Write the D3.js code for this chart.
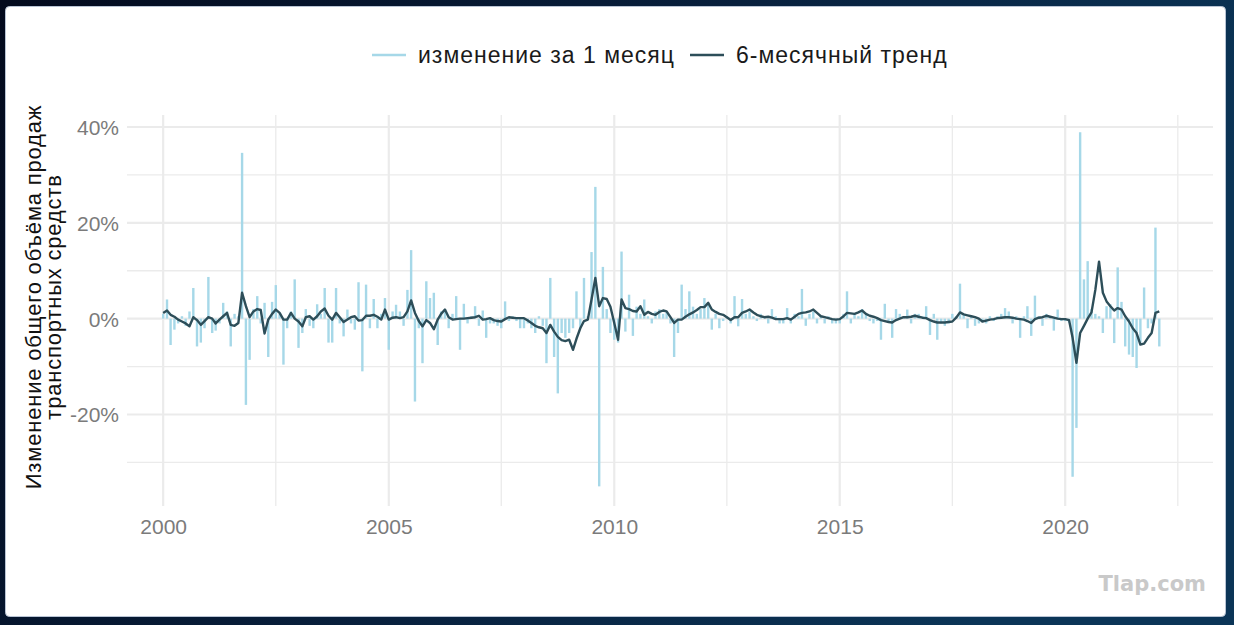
<!DOCTYPE html>
<html>
<head>
<meta charset="utf-8">
<script src="https://cdn.jsdelivr.net/npm/d3@7"></script>
<style>
  html, body { margin: 0; padding: 0; background: #061428; }
  svg { display: block; }
</style>
</head>
<body>
<svg id="chart" width="1234" height="625"></svg>
<script>
// monthly change, % (Jan 2000 .. Feb 2022), one row per year
const monthlyChange = [
  1, 4, -5.5, -2.3, -1, 0.5, -1.5, 1.5, 6.4, -5.8, -5, -2,
  8.7, -3, -2.5, -1, 3.3, 1.5, -5.8, 1, 0.5, 34.6, -18, -8.6,
  2, 4.7, -1, 3.3, -8, 3.5, 7, 1, -9.6, -2, 1.5, 8.2,
  -6.1, -3, 2, -1.5, -2, 3, 1, 6.4, -5, -5, 6.4, -1,
  -3.7, 1.9, -1, -2.3, 7.6, -11, 7.1, -2, 4.1, -2, 1, 4.3,
  -6.5, 1.5, 2.9, 1.5, -1.5, 6, 14.3, -17.3, -2, -9.3, 7.8, 4.3,
  5.4, -5.5, 1.5, 2, -2, 1, 4.7, -6.5, 3.1, -1, 0.5, 2.6,
  -1.5, 1.7, -4, -1, -1, -1.5, -2, 3.6, -0.5, 0.5, -0.5, -2,
  -2, -1, -2, -3, 0.5, -1.5, -9.3, 8.5, -8, -15.6, -3, -4,
  -3, -2, 5.7, -2, 8.5, 0.5, 13.9, 27.5, -35, 10.8, 2, -3,
  -4.4, -5, 14, -2.7, 5, -3.6, 2.5, 1, 4, 0.5, -1, 1.5,
  2, 1, 1.5, -1, -8, -3, 7.1, 2, 5.7, 2.5, 1, 2,
  4.3, 3, -2.3, 1, -2, -0.5, 0.5, -1, 4.7, -1.6, 4.1, 1,
  1.5, 0.5, -0.5, 1, 0.5, -1, 2, 0.5, -1, -1, 2.2, -1,
  1, 0.5, 6.2, -1.5, 1, 1.5, -1, 0.5, -1, 0.5, -1, -1,
  -1, 1, 5.7, -1, 1, 0.5, 2, 1, -0.5, -1, -0.5, -4.4,
  3.1, -0.5, -4, 2, 1, 0.5, 1.9, -1, 1, 1, 0.5, 2.6,
  -3.4, 1, -4.4, -1, -1.5, -1, 1, 0.5, 7.3, 1, -2, 0.5,
  -1.5, -1, -0.5, -1, 0.5, -0.5, 0.5, 1, 2.2, 1.5, -1, 0.5,
  -4, 0.5, 2.6, -3.6, 4.8, 0.5, -1.5, 1, 0.5, -2.5, 1.9, -0.5,
  -0.5, -0.8, -33, -22.8, 38.9, 8.2, 12, 2, 1, 0.5, -3, 2.6,
  3, -5.1, 10.7, 3.5, -5.8, -7.5, -8, -10.3, -5, 6.5, -2, -1,
  19, -5.8
];

// 6-month trend, %
const trend6m = [
  1.2, 1.7, 0.8, 0.4, -0.2, -0.6, -1, -1.6, 0.3, -0.3, -1.3, -0.5,
  0.3, 0, -1, -0.2, 0.5, 1.2, -1.3, -1.5, -0.9, 5.4, 2.6, 0.3,
  1.5, 2, 1.8, -3.1, -0.2, 1, 1.9, 1.2, -0.2, -0.2, 1.2, 0,
  -0.6, -1.6, 0.3, 0.5, -0.2, 0.5, 1.5, 2.1, 0.6, -0.2, 1.2, 0.3,
  -0.7, -0.2, 0.3, 0.5, -0.4, -0.3, 0.6, 0.6, 0.8, 0.4, -0.2, 1.9,
  -0.2, 0.2, 0.3, 0.1, 0.3, 1.5, 3.8, 1.2, -0.5, -1.6, -0.3, -0.9,
  -2.2, -0.2, 1, 1.9, 0.3, -0.2, -0.1, 0, 0, 0.1, 0.2, 0.3,
  0.6, -0.2, -0.1, 0.1, -0.3, -0.5, -0.6, -0.1, 0.3, 0.2, 0.1, 0.1,
  0.1, -0.4, -0.9, -1.5, -1.8, -2, -3, -1.3, -2.7, -3.8, -4.5, -4.7,
  -4.4, -6.5, -4.2, -2, -0.5, -0.2, 4, 8.5, 2.6, 4.3, 4.1, 2.5,
  -0.9, -4.4, 4, 2.2, 2, 1.6, 1.5, 2.6, 0.8, 1.4, 1, 0.8,
  1.4, 1.7, 1.5, 0.3, -0.9, -0.2, -0.2, 0.4, 0.9, 1.3, 1.8, 2.4,
  2.4, 3.3, 1.9, 1.4, 1, 0.8, 0.3, -0.3, 0.3, 0.3, 1.2, 1.5,
  1.9, 1.3, 0.8, 0.5, 0.3, 0.4, 0.2, -0.1, -0.1, -0.1, 0.1, -0.2,
  0.4, 1, 1.2, 1.3, 1.5, 1.9, 1.2, 0.5, 0.3, 0.1, -0.1, -0.2,
  -0.1, 0.5, 1.2, 1.1, 1, 1.3, 1.7, 1, 0.6, 0.4, 0.1, -0.3,
  -0.5, -0.7, -0.8, -0.3, 0, 0.3, 0.3, 0.4, 0.6, 0.4, 0.2, 0.1,
  -0.3, -0.6, -0.8, -0.8, -0.8, -0.7, -0.6, 0.2, 1.3, 0.9, 0.7, 0.5,
  0.3, 0, -0.6, -0.4, -0.2, -0.1, 0.1, 0.2, 0.3, 0.3, 0.2, 0,
  -0.1, -0.2, -0.5, -0.9, -0.1, 0.2, 0.3, 0.6, 0.4, 0.2, 0, -0.1,
  -0.1, -0.3, -4, -9.2, -3, -1.5, 0, 1.3, 6, 11.9, 5.4, 3.6,
  2.6, 1.7, 2.2, 1.9, 0.5, -0.6, -2, -3, -5.4, -5.2, -4, -3,
  1.2, 1.5
];

const months = d3.timeMonth.range(new Date(2000, 0, 1), new Date(2022, 2, 1));
const yTicks = [-0.2, 0, 0.2, 0.4];
const yMinor = [-0.3, -0.1, 0.1, 0.3];
const xTickYears = [2000, 2005, 2010, 2015, 2020];
const xMinorYears = [2002.5, 2007.5, 2012.5, 2017.5, 2022.5];
const legendLabels = ['изменение за 1 месяц', '6-месячный тренд'];
const yTitle = ['Изменение общего объёма продаж', 'транспортных средств'];

const data = months.map((d, i) => ({ date: d, change: monthlyChange[i] / 100, trend: trend6m[i] / 100 }));

const W = 1234, H = 625;
const panel = { left: 127, right: 1213, top: 115, bottom: 506 };
const colBar = '#a6d8e8', colLine = '#2d4e59', colGrid = '#ebebeb', colText = '#7b7b7b';
const font = '"Liberation Sans", Arial, Helvetica, sans-serif';
const pct = d3.formatLocale({ decimal: '.', thousands: ',', grouping: [3], currency: ['', ''], minus: '-' }).format('.0%');

const svg = d3.select('#chart');

// background frame
const defs = svg.append('defs');
const grad = defs.append('linearGradient').attr('id', 'bg').attr('x1', 0).attr('x2', 1).attr('y1', 0).attr('y2', 0.3);
grad.append('stop').attr('offset', 0).attr('stop-color', '#030a1d');
grad.append('stop').attr('offset', 0.55).attr('stop-color', '#08203d');
grad.append('stop').attr('offset', 1).attr('stop-color', '#0b3557');
svg.append('rect').attr('width', W).attr('height', H).attr('fill', 'url(#bg)');
svg.append('rect').attr('x', 5.5).attr('y', 6.5).attr('width', 1220).attr('height', 610).attr('rx', 4)
  .attr('fill', '#fff').attr('stroke', '#b9c4d4').attr('stroke-width', 1);

const yearDate = y => new Date(Math.floor(y), Math.round((y % 1) * 12), 1);

const x = d3.scaleTime()
  .domain([new Date(1999, 2, 14), new Date(2023, 3, 12)])
  .range([panel.left, panel.right]);
const y = d3.scaleLinear().domain([-0.391, 0.425]).range([panel.bottom, panel.top]);

const grid = svg.append('g');
grid.selectAll('line.hmin').data(yMinor).join('line')
  .attr('x1', panel.left).attr('x2', panel.right).attr('y1', d => y(d)).attr('y2', d => y(d))
  .attr('stroke', colGrid).attr('stroke-width', 1.3);
grid.selectAll('line.vmin').data(xMinorYears).join('line')
  .attr('x1', d => x(yearDate(d))).attr('x2', d => x(yearDate(d))).attr('y1', panel.top).attr('y2', panel.bottom)
  .attr('stroke', colGrid).attr('stroke-width', 1.3);
grid.selectAll('line.hmaj').data(yTicks).join('line')
  .attr('x1', panel.left).attr('x2', panel.right).attr('y1', d => y(d)).attr('y2', d => y(d))
  .attr('stroke', colGrid).attr('stroke-width', 2.2);
grid.selectAll('line.vmaj').data(xTickYears).join('line')
  .attr('x1', d => x(new Date(d, 0, 1))).attr('x2', d => x(new Date(d, 0, 1))).attr('y1', panel.top).attr('y2', panel.bottom)
  .attr('stroke', colGrid).attr('stroke-width', 2.2);

// axes labels via d3 axes
const yAxis = svg.append('g').attr('transform', `translate(${panel.left - 8},0)`)
  .call(d3.axisLeft(y).tickValues(yTicks).tickSize(0).tickPadding(0).tickFormat(pct));
yAxis.select('.domain').remove();
yAxis.selectAll('text').attr('font-family', font).attr('font-size', 21).attr('fill', colText).attr('dy', '0.35em');

const xAxis = svg.append('g').attr('transform', `translate(0,${panel.bottom + 8})`)
  .call(d3.axisBottom(x).tickValues(xTickYears.map(d => new Date(d, 0, 1))).tickSize(0).tickPadding(0).tickFormat(d3.timeFormat('%Y')));
xAxis.select('.domain').remove();
xAxis.selectAll('text').attr('font-family', font).attr('font-size', 21).attr('fill', colText).attr('dy', '0.95em');

// bars
const bw = 2.4;
svg.append('g').selectAll('rect').data(data).join('rect')
  .attr('x', d => x(d.date) - bw / 2)
  .attr('width', bw)
  .attr('y', d => y(Math.max(0, d.change)))
  .attr('height', d => Math.abs(y(d.change) - y(0)))
  .attr('fill', colBar);

// trend line
svg.append('path').datum(data)
  .attr('fill', 'none').attr('stroke', colLine).attr('stroke-width', 2.4).attr('stroke-linejoin', 'round')
  .attr('d', d3.line().x(d => x(d.date)).y(d => y(d.trend)));

// y title
const yt = svg.append('text').attr('transform', 'translate(33,297) rotate(-90)')
  .attr('font-family', font).attr('font-size', 22).attr('letter-spacing', 0.8)
  .attr('fill', '#111').attr('text-anchor', 'middle');
yt.selectAll('tspan').data(yTitle).join('tspan')
  .attr('x', 0).attr('dy', (d, i) => i === 0 ? '0.35em' : '0.9em').text(d => d);

// legend
const legend = svg.append('g').attr('font-family', font).attr('font-size', 23)
  .attr('letter-spacing', 1).attr('fill', '#1a1a1a');
const legendItems = [
  { label: legendLabels[0], color: colBar, x0: 372 },
  { label: legendLabels[1], color: colLine, x0: 690 }
];
legendItems.forEach(it => {
  legend.append('line').attr('x1', it.x0).attr('x2', it.x0 + 34).attr('y1', 55).attr('y2', 55)
    .attr('stroke', it.color).attr('stroke-width', 2.6);
  legend.append('text').attr('x', it.x0 + 46).attr('y', 55).attr('dy', '0.35em').text(it.label);
});

// watermark
svg.append('text').attr('x', 1206).attr('y', 591).attr('text-anchor', 'end')
  .attr('font-family', '"DejaVu Sans", sans-serif').attr('font-weight', 'bold').attr('font-size', 21)
  .attr('fill', '#c9c9c9').text('Tlap.com');
</script>
</body>
</html>
